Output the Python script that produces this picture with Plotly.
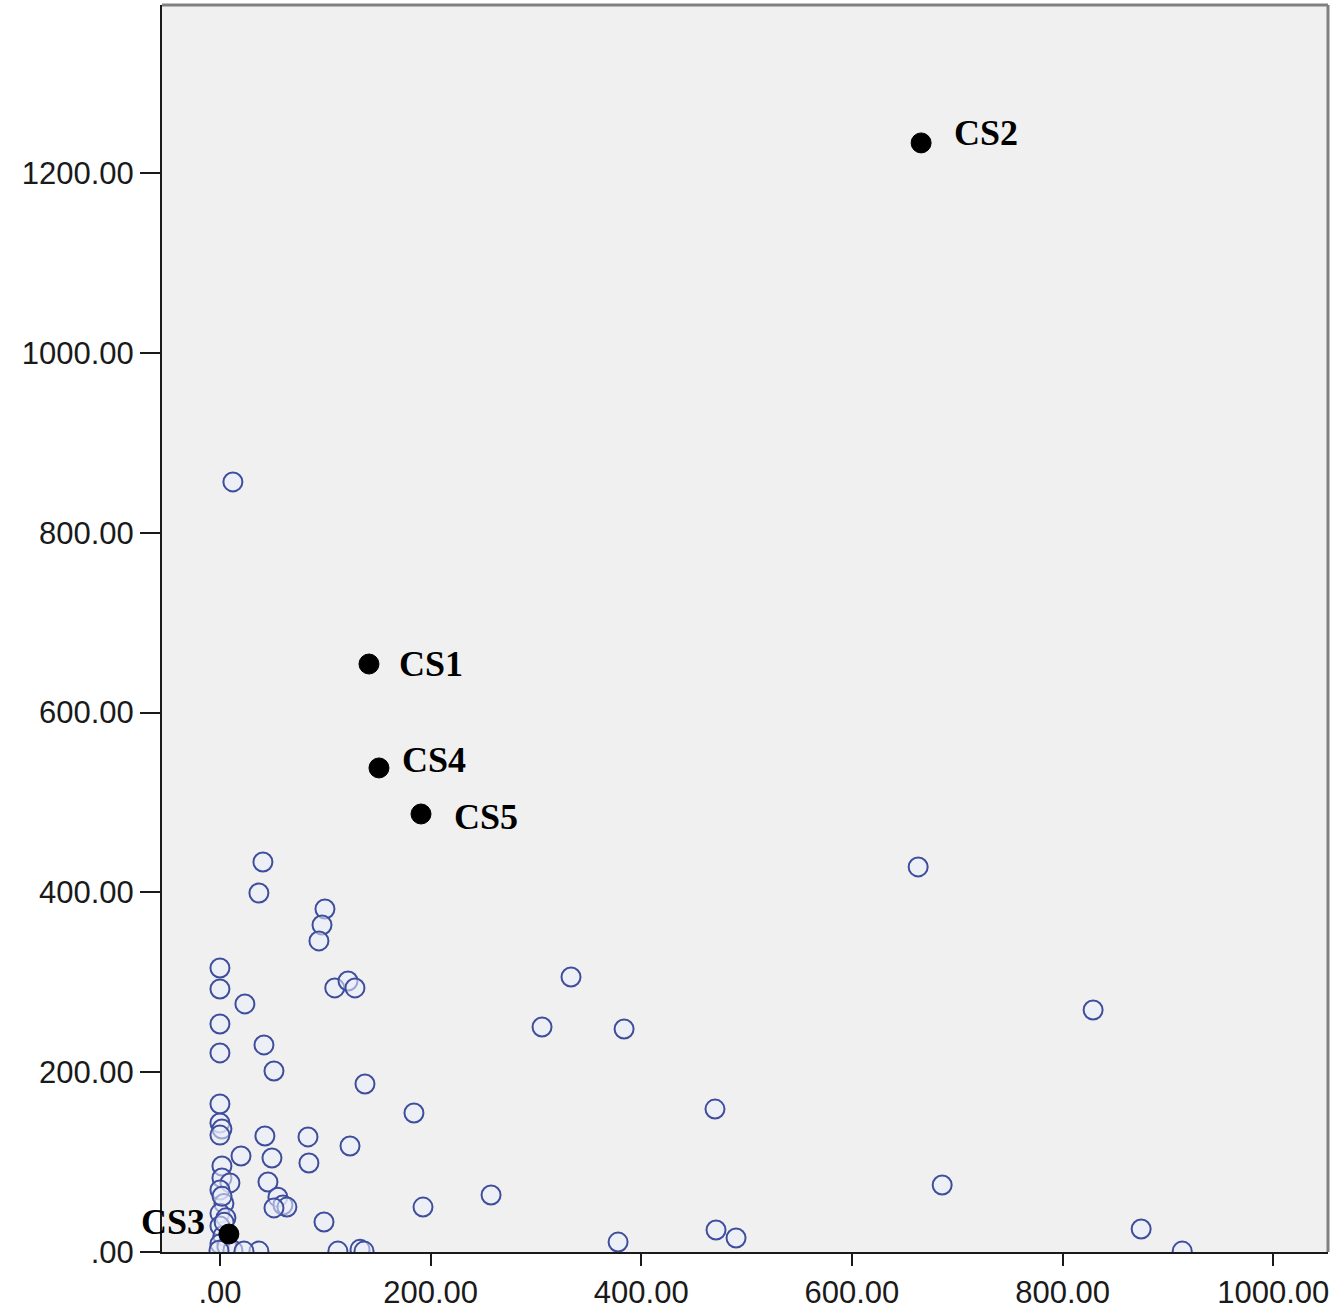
import plotly.graph_objects as go

# Unlabelled cases (open circles)
x_open = [12.3, 40.8, 37.0, 99.7, 96.9, 94.0, 662.9, 0.0, 0.0, 109.0, 121.6, 128.2,
          333.3, 23.7, 829.0, 305.8, 383.7, 0.0, 41.8, 0.0, 51.3, 137.7, 0.0, 184.2,
          470.0, 0.0, 1.9, 0.0, 42.7, 83.6, 123.5, 20.0, 49.4, 84.5, 1.9, 1.9, 9.5,
          45.6, 55.0, 59.8, 63.6, 51.3, 685.7, 257.4, 192.8, 98.8, 874.6, 471.0, 490.0,
          378.0, 913.6, 112.0, 133.0, 136.8, 37.0,
          0.0, 3.8, 0.0, 5.7, 0.0, 2.8, 0.0, 6.6, 12.3, 22.8, -0.9, 2.0, 4.0]
y_open = [856.5, 433.8, 399.3, 381.5, 363.7, 346.0, 428.3, 315.9, 292.5, 293.7, 301.4, 293.7,
          305.9, 275.9, 269.2, 250.3, 248.0, 253.6, 230.3, 221.4, 201.3, 186.9, 164.6, 154.6,
          159.0, 143.5, 136.8, 130.0, 129.0, 128.0, 117.9, 106.8, 104.6, 99.0, 95.7, 82.3, 76.8,
          77.9, 61.0, 52.3, 50.0, 49.0, 74.5, 63.4, 50.0, 33.4, 25.6, 24.5, 15.6,
          11.0, 1.0, 1.0, 3.0, 1.0, 1.0,
          69.0, 54.0, 43.0, 38.0, 29.0, 18.0, 9.0, 6.0, 2.0, 1.0, 2.0, 62.0, 33.0]

# Labelled cases (filled black)
case_names = ["CS1", "CS2", "CS3", "CS4", "CS5"]
case_x = [141.5, 665.7, 8.5, 151.0, 190.9]
case_y = [654.0, 1233.6, 20.0, 538.4, 487.2]

x_tickvals = [0, 200, 400, 600, 800, 1000]
x_ticktext = [".00", "200.00", "400.00", "600.00", "800.00", "1000.00"]
y_tickvals = [0, 200, 400, 600, 800, 1000, 1200]
y_ticktext = [".00", "200.00", "400.00", "600.00", "800.00", "1000.00", "1200.00"]

# label offsets (pixels) for each case label
label_style = {
    "CS1": dict(xanchor="left", xshift=28, yshift=0),
    "CS2": dict(xanchor="left", xshift=31, yshift=10),
    "CS3": dict(xanchor="right", xshift=-22, yshift=12),
    "CS4": dict(xanchor="left", xshift=21, yshift=8),
    "CS5": dict(xanchor="left", xshift=31, yshift=-3),
}

fig = go.Figure()
fig.add_trace(go.Scatter(
    x=x_open, y=y_open, mode="markers",
    marker=dict(symbol="circle", size=19, color="rgba(235,238,252,0.55)",
                line=dict(color="#3E4E9C", width=2)),
    showlegend=False, hoverinfo="x+y"))
fig.add_trace(go.Scatter(
    x=case_x, y=case_y, mode="markers",
    marker=dict(symbol="circle", size=20, color="black",
                line=dict(color="black", width=1)),
    showlegend=False, text=case_names, hoverinfo="text+x+y"))

for name, cx, cy in zip(case_names, case_x, case_y):
    st = label_style[name]
    fig.add_annotation(x=cx, y=cy, text="<b>" + name + "</b>", showarrow=False,
                       xanchor=st["xanchor"], yanchor="middle",
                       xshift=st["xshift"], yshift=st["yshift"],
                       font=dict(family="Liberation Serif", size=36, color="black"))

fig.update_layout(
    width=1335, height=1311,
    margin=dict(l=162, r=7, t=5, b=59, autoexpand=False),
    paper_bgcolor="white", plot_bgcolor="#F0F0F0",
    font=dict(family="Liberation Sans", size=31, color="#1a1a1a"),
    xaxis=dict(range=[-55, 1052], tickvals=x_tickvals, ticktext=x_ticktext,
               ticks="outside", ticklen=12, tickwidth=2, tickcolor="#1a1a1a",
               showgrid=False, zeroline=False, showline=True, linecolor="#1a1a1a",
               linewidth=2, mirror=False, automargin=False),
    yaxis=dict(range=[0, 1387], tickvals=y_tickvals, ticktext=y_ticktext,
               ticks="outside", ticklen=20, tickwidth=2, tickcolor="#1a1a1a",
               showgrid=False, zeroline=False, showline=True, linecolor="#1a1a1a",
               linewidth=2, mirror=False, automargin=False),
    shapes=[
        dict(type="line", xref="paper", yref="paper", x0=0, x1=1, y0=1, y1=1,
             line=dict(color="#808080", width=3)),
        dict(type="line", xref="paper", yref="paper", x0=1, x1=1, y0=0, y1=1,
             line=dict(color="#808080", width=3)),
    ],
)

fig.write_html("out.html", config={"displayModeBar": False},
               post_script="document.body.style.margin='0';document.body.style.overflow='hidden';")
